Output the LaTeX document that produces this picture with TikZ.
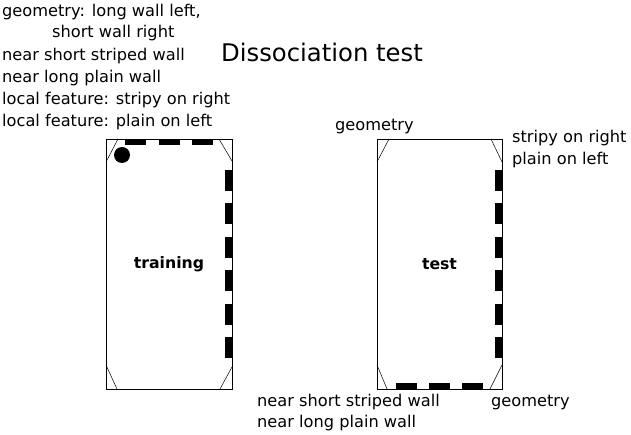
\documentclass[tikz,border=0pt]{standalone}
\usepackage{fontspec}
\setmainfont{DejaVu Sans}
\begin{document}
\begin{tikzpicture}[x=1pt,y=-1pt,
  lbl/.style={anchor=base west,inner sep=0pt,font=\fontsize{16.2}{19}\selectfont},
  room/.style={draw,line width=0.8pt,inner sep=0pt,font=\bfseries\fontsize{15.7}{18}\selectfont},
  stripe/.style={fill=black},
  corner/.style={line width=0.5pt}]
\useasboundingbox (0,0) rectangle (631,435);

% title and notes
\node (title) at (221,62) [anchor=base west,inner sep=0pt,font=\fontsize{24.3}{28}\selectfont] {Dissociation test};
\node (n1) at (2,17) [lbl] {geometry: long wall left,};
\node (n2) at (52,38) [lbl] {short wall right};
\node (n3) at (2,61) [lbl] {near short striped wall};
\node (n4) at (2,83) [lbl] {near long plain wall};
\node (n5) at (2,105) [lbl] {local feature: stripy on right};
\node (n6) at (2,127) [lbl] {local feature: plain on left};

% training room
\node (train) at (169,264) [room,minimum width=126pt,minimum height=250pt] {training};
\foreach \x in {125,158.5,192} {
    \fill [stripe] (\x,139) rectangle +(21,6);
}
\foreach \y in {170,203.4,236.8,270.2,303.6,337} {
    \fill [stripe] (225,\y) rectangle +(7,21);
}
\fill (122,155) circle (8);
\draw [corner] (118,139) -- (106,162);
\draw [corner] (219,139) -- (232,161);
\draw [corner] (106,365) -- (117,389);
\draw [corner] (232,367) -- (220,389);

% test room
\node (test) at (439.5,264) [room,minimum width=125pt,minimum height=250pt] {test};
\foreach \x in {396,429,462} {
    \fill [stripe] (\x,383) rectangle +(21,6);
}
\foreach \y in {170,203.4,236.8,270.2,303.6,337} {
    \fill [stripe] (495,\y) rectangle +(7,21);
}
\draw [corner] (389,139) -- (377,162);
\draw [corner] (491,139) -- (502,162);
\draw [corner] (377,365) -- (387,389);
\draw [corner] (502,365) -- (490,389);

% test labels
\node (geotop) at (335,131) [lbl] {geometry};
\node (stripy) at (512,143) [lbl] {stripy on right};
\node (plain) at (512,165) [lbl] {plain on left};
\node (nearshort) at (257,406) [lbl] {near short striped wall};
\node (nearlong) at (257,427) [lbl] {near long plain wall};
\node (geobot) at (491,406) [lbl] {geometry};
\end{tikzpicture}
\end{document}
